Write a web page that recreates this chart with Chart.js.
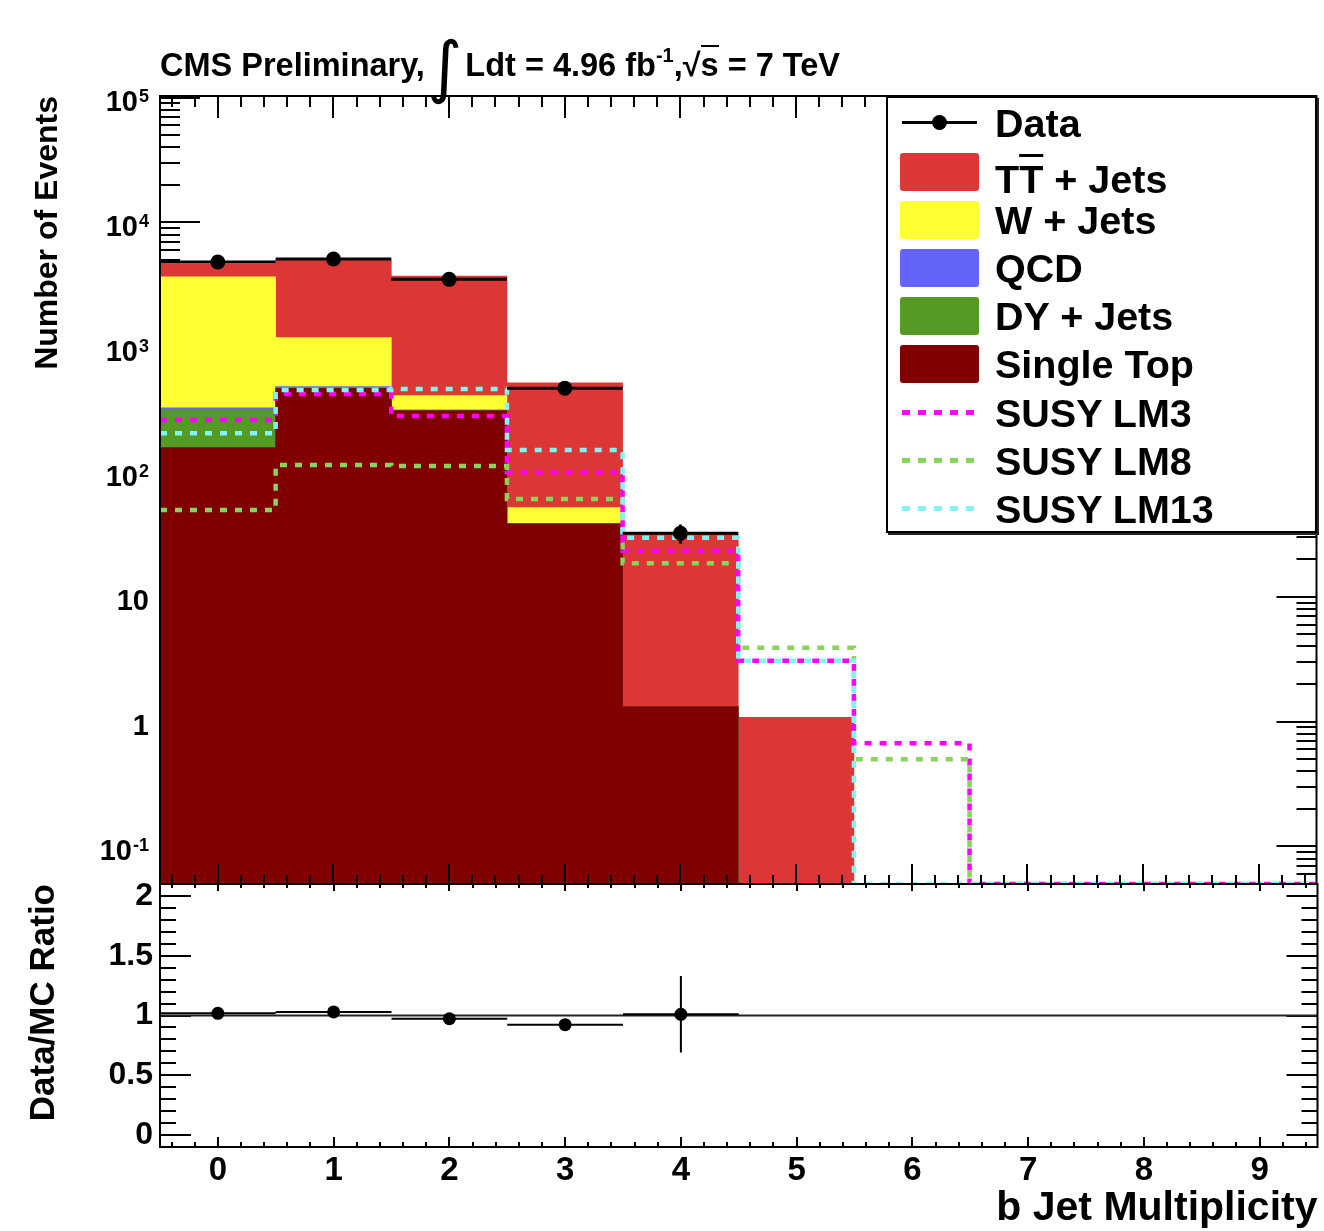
<!DOCTYPE html>
<html>
<head>
<meta charset="utf-8">
<script src="https://cdn.jsdelivr.net/npm/chart.js@4.4.0/dist/chart.umd.min.js"></script>
<style>
  body { margin: 0; background: #fff; }
  #wrap { position: relative; width: 1324px; height: 1231px; font-family: "Liberation Sans", Arial, Helvetica, sans-serif; font-weight: bold; color: #000; }
  canvas { position: absolute; left: 0; top: 0; }
  #title { position: absolute; left: 160px; top: 45px; font-size: 32.5px; line-height: 40px; white-space: nowrap; }
  #title .int { font-family: "DejaVu Sans", sans-serif; font-weight: normal; font-size: 68px; display: inline-block; vertical-align: -14px; margin: 0 3px 0 2px; line-height: 40px; }
  #title sup { font-size: 20px; vertical-align: 14px; line-height: 0; }
  .ov { border-top: 2px solid #000; }
  .ytl { position: absolute; right: 1175px; font-size: 29px; line-height: 28px; white-space: nowrap; }
  .ytl .e { position: relative; top: -9px; font-size: 18px; margin-left: 1px; }
  #legend { position: absolute; left: 886px; top: 96px; width: 427px; height: 433px; border: 2px solid #000; background: #fff; box-shadow: 2px 2px 0 #222; }
  .row { position: absolute; left: 0; width: 100%; height: 48px; }
  .sw { position: absolute; left: 12px; top: 5px; width: 79px; height: 38px; border-radius: 3px; }
  .lab { position: absolute; left: 107px; top: 0; font-size: 39.5px; line-height: 48px; white-space: nowrap; }
  .dline { position: absolute; left: 14px; top: 22px; width: 75px; height: 3px; background: #000; }
  .ddot { position: absolute; left: 44px; top: 16px; width: 15px; height: 15px; border-radius: 50%; background: #000; }
  .dash { position: absolute; left: 14px; top: 21px; width: 72px; height: 5px; }
</style>
</head>
<body>
<div id="wrap">
  <canvas id="ratioChart" width="1324" height="1231"></canvas>
  <canvas id="mainChart" width="1324" height="1231"></canvas>
  <div id="title">CMS Preliminary,<span class="int">∫</span>Ldt = 4.96 fb<sup>-1</sup>,√<span class="ov">s</span> = 7 TeV</div>
  <div id="legend"></div>
</div>
<script>
// bin centres (b jet multiplicity)
const binCenters = [0, 1, 2, 3, 4, 5, 6, 7, 8, 9];
const xTickLabels = ["0", "1", "2", "3", "4", "5", "6", "7", "8", "9"];

// MC backgrounds per bin
const singleTop = [157, 469, 311, 38.5, 1.32, 0, 0, 0, 0, 0];
const dyJets = [157, 9, 3, 0.3, 0, 0, 0, 0, 0, 0];
const qcd = [13, 5, 0, 0, 0, 0, 0, 0, 0, 0];
const wJets = [3344, 709, 95, 13, 0, 0, 0, 0, 0, 0];
const ttJets = [974, 3804, 3311, 467, 30.5, 1.08, 0, 0, 0, 0];

// data
const dataVals = [4815, 5089, 3499, 469, 32.3, 0, 0, 0, 0, 0];
const dataErr = [69, 71, 59, 22, 5.7, 0, 0, 0, 0, 0];

// signal points
const susyLM3 = [261, 422, 281, 99.5, 23.4, 3.08, 0.67, 0, 0, 0];
const susyLM8 = [49.6, 113.8, 111.7, 60.8, 18.6, 3.91, 0.5, 0, 0, 0];
const susyLM13 = [204, 454, 462, 150, 29.8, 3.08, 0, 0, 0, 0];

// data / MC
const ratioVals = [1.018, 1.03, 0.973, 0.923, 1.01, null, null, null, null, null];
const ratioErr = [0.02, 0.02, 0.02, 0.05, 0.32, 0, 0, 0, 0, 0];

const yTickVals = [0.1, 1, 10, 100, 1000, 10000, 100000];
const yTickLabels = ["10^-1", "1", "10", "10^2", "10^3", "10^4", "10^5"];
const ratioTickVals = [0, 0.5, 1, 1.5, 2];
const ratioTickLabels = ["0", "0.5", "1", "1.5", "2"];

const yMin = 0.05, yMax = 1.03e5;
const rMin = -0.1, rMax = 2.1;
const FONT = '"Liberation Sans", Arial, Helvetica, sans-serif';

const stackDefs = [
  { label: "Single Top", vals: singleTop, color: "#800000" },
  { label: "DY + Jets", vals: dyJets, color: "#559a24" },
  { label: "QCD", vals: qcd, color: "#6464fa" },
  { label: "W + Jets", vals: wJets, color: "#ffff33" },
  { label: "TT + Jets", vals: ttJets, color: "#dd3636" },
];
const susyDefs = [
  { label: "SUSY LM3", vals: susyLM3, color: "#ff00ff" },
  { label: "SUSY LM8", vals: susyLM8, color: "#86d65a" },
  { label: "SUSY LM13", vals: susyLM13, color: "#7ff5f5" },
];

// cumulative stack, drawn overlapping (lowest on top)
let running = binCenters.map(() => 0);
const stackSets = stackDefs.map((s, k) => {
  running = running.map((r, i) => r + s.vals[i]);
  return {
    type: "bar",
    label: s.label,
    data: binCenters.map((x, i) => ({ x: x, y: running[i] })).filter((p) => p.y > 0),
    backgroundColor: s.color,
    borderWidth: 0,
    grouped: false,
    barPercentage: 1,
    categoryPercentage: 1,
    order: 4 + k,
  };
});

function stepPoints(vals) {
  const pts = vals.map((v, i) => ({ x: binCenters[i] - 0.5, y: v > 0 ? v : yMin }));
  pts.push({ x: binCenters[binCenters.length - 1] + 0.5, y: pts[pts.length - 1].y });
  return pts;
}

const susySets = susyDefs.map((s, k) => ({
  type: "line",
  label: s.label,
  data: stepPoints(s.vals),
  stepped: true,
  borderColor: s.color,
  borderWidth: 4.5,
  borderDash: [7, 8],
  pointRadius: 0,
  fill: false,
  order: 3 - k,
}));

const dataSet = {
  type: "scatter",
  label: "Data",
  data: binCenters.map((x, i) => ({ x: x, y: dataVals[i] })).filter((p) => p.y > 0),
  pointRadius: 7.5,
  backgroundColor: "#000",
  borderWidth: 0,
  order: 0,
};

function xTicks(ctx, a, x, topLen, botLen) {
  ctx.beginPath();
  for (let n = -2; n <= 47; n++) {
    const v = n / 5;
    const px = Math.round(x.getPixelForValue(v));
    const major = n % 5 === 0;
    ctx.moveTo(px, a.top);
    ctx.lineTo(px, a.top + (major ? topLen[0] : topLen[1]));
    ctx.moveTo(px, a.bottom);
    ctx.lineTo(px, a.bottom - (major ? botLen[0] : botLen[1]));
  }
  ctx.stroke();
}

const mainFrame = {
  id: "mainFrame",
  beforeDatasetsDraw(chart) {
    const { ctx, chartArea: a, scales: { y } } = chart;
    ctx.save();
    ctx.strokeStyle = "#000";
    ctx.lineWidth = 2;
    ctx.beginPath();
    for (let k = -2; k <= 5; k++) {
      for (let m = 1; m <= 9; m++) {
        const v = m * Math.pow(10, k);
        if (v < yMin || v > yMax) continue;
        const py = Math.round(y.getPixelForValue(v));
        const len = m === 1 ? 40 : 20;
        ctx.moveTo(a.left, py); ctx.lineTo(a.left + len, py);
        ctx.moveTo(a.right, py); ctx.lineTo(a.right - len, py);
      }
    }
    ctx.stroke();
    ctx.restore();
  },
  afterDatasetsDraw(chart) {
    const { ctx, chartArea: a, scales: { x, y } } = chart;
    ctx.save();
    ctx.strokeStyle = "#000";
    // data: bin width bars and errors
    ctx.lineWidth = 3;
    ctx.beginPath();
    dataVals.forEach((v, i) => {
      if (!(v > 0)) return;
      const py = y.getPixelForValue(v);
      const px = x.getPixelForValue(binCenters[i]);
      ctx.moveTo(x.getPixelForValue(binCenters[i] - 0.5), py);
      ctx.lineTo(x.getPixelForValue(binCenters[i] + 0.5), py);
      ctx.moveTo(px, y.getPixelForValue(v + dataErr[i]));
      ctx.lineTo(px, y.getPixelForValue(Math.max(v - dataErr[i], yMin)));
    });
    ctx.stroke();
    ctx.lineWidth = 2;
    xTicks(ctx, a, x, [22, 11], [20, 9]);
    ctx.strokeRect(a.left, a.top, a.right - a.left, a.bottom - a.top);
    ctx.restore();
  },
};

const ratioFrame = {
  id: "ratioFrame",
  beforeDatasetsDraw(chart) {
    const { ctx, chartArea: a, scales: { y } } = chart;
    ctx.save();
    ctx.strokeStyle = "#000";
    ctx.lineWidth = 2;
    ctx.beginPath();
    for (let n = 0; n <= 20; n++) {
      const py = Math.round(y.getPixelForValue(n / 10));
      const len = n % 5 === 0 ? 31 : 16;
      ctx.moveTo(a.left, py); ctx.lineTo(a.left + len, py);
      ctx.moveTo(a.right, py); ctx.lineTo(a.right - len, py);
    }
    ctx.stroke();
    ctx.restore();
  },
  afterDatasetsDraw(chart) {
    const { ctx, chartArea: a, scales: { x, y } } = chart;
    ctx.save();
    ctx.strokeStyle = "#000";
    ctx.lineWidth = 2;
    ctx.beginPath();
    ratioVals.forEach((v, i) => {
      if (v === null) return;
      const py = y.getPixelForValue(v);
      const px = x.getPixelForValue(binCenters[i]);
      ctx.moveTo(x.getPixelForValue(binCenters[i] - 0.5), py);
      ctx.lineTo(x.getPixelForValue(binCenters[i] + 0.5), py);
      ctx.moveTo(px, y.getPixelForValue(v + ratioErr[i]));
      ctx.lineTo(px, y.getPixelForValue(v - ratioErr[i]));
    });
    ctx.stroke();
    xTicks(ctx, a, x, [7, 4], [10, 5]);
    ctx.strokeRect(a.left, a.top, a.right - a.left, a.bottom - a.top);
    ctx.restore();
  },
};

const mainChart = new Chart(document.getElementById("mainChart"), {
  type: "bar",
  data: { datasets: [dataSet, ...susySets, ...stackSets] },
  options: {
    responsive: false,
    animation: false,
    events: [],
    layout: { padding: { top: 96, bottom: 347, left: 0, right: 4 } },
    plugins: { legend: { display: false }, tooltip: { enabled: false } },
    scales: {
      x: {
        type: "linear",
        display: false,
        offset: false,
        min: -0.5,
        max: 9.5,
        afterBuildTicks: (s) => { s.ticks = binCenters.map((v) => ({ value: v })); },
      },
      y: {
        type: "logarithmic",
        min: yMin,
        max: yMax,
        afterFit: (s) => { s.width = 160; },
        afterBuildTicks: (s) => { s.ticks = yTickVals.map((v) => ({ value: v })); },
        ticks: { display: false },
        grid: { display: false, drawTicks: false },
        border: { display: false },
        title: {
          display: true,
          text: "Number of Events",
          align: "end",
          color: "#000",
          font: { family: FONT, size: 32, weight: "bold" },
          padding: { top: 29, bottom: 0 },
        },
      },
    },
  },
  plugins: [mainFrame],
});

// log axis labels with real superscripts, placed through the chart's y scale
const wrap = document.getElementById("wrap");
yTickVals.forEach((v, i) => {
  const parts = yTickLabels[i].split("^");
  const el = document.createElement("div");
  el.className = "ytl";
  el.innerHTML = parts[0] + (parts[1] ? '<span class="e">' + parts[1] + "</span>" : "");
  el.style.top = (mainChart.scales.y.getPixelForValue(v) - 10.5).toFixed(1) + "px";
  wrap.appendChild(el);
});

new Chart(document.getElementById("ratioChart"), {
  type: "scatter",
  data: {
    datasets: [
      {
        type: "scatter",
        label: "Data/MC",
        data: binCenters.map((x, i) => ({ x: x, y: ratioVals[i] })).filter((p) => p.y !== null),
        pointRadius: 6.5,
        backgroundColor: "#000",
        borderWidth: 0,
        order: 0,
      },
      {
        type: "line",
        label: "unity",
        data: [{ x: -0.5, y: 1 }, { x: 9.5, y: 1 }],
        borderColor: "#222",
        borderWidth: 2,
        pointRadius: 0,
        order: 1,
      },
    ],
  },
  options: {
    responsive: false,
    animation: false,
    events: [],
    layout: { padding: { top: 884, bottom: 0, left: 0, right: 4 } },
    plugins: { legend: { display: false }, tooltip: { enabled: false } },
    scales: {
      x: {
        type: "linear",
        min: -0.5,
        max: 9.5,
        offset: false,
        afterFit: (s) => { s.height = 84; },
        afterBuildTicks: (s) => { s.ticks = binCenters.map((v) => ({ value: v })); },
        ticks: {
          callback: (v, i) => xTickLabels[i],
          autoSkip: false,
          maxRotation: 0,
          font: { family: FONT, size: 33, weight: "bold" },
          color: "#000",
          padding: 4,
        },
        grid: { display: false, drawTicks: false },
        border: { display: false },
        title: {
          display: true,
          text: "b Jet Multiplicity",
          align: "end",
          color: "#000",
          font: { family: FONT, size: 41, weight: "bold" },
          padding: { top: 0, bottom: -2 },
        },
      },
      y: {
        type: "linear",
        min: rMin,
        max: rMax,
        afterFit: (s) => { s.width = 160; },
        afterBuildTicks: (s) => { s.ticks = ratioTickVals.map((v) => ({ value: v })); },
        ticks: {
          callback: (v, i) => ratioTickLabels[i],
          font: { family: FONT, size: 32, weight: "bold" },
          color: "#000",
          padding: 7,
        },
        grid: { display: false, drawTicks: false },
        border: { display: false },
        title: {
          display: true,
          text: "Data/MC Ratio",
          align: "end",
          color: "#000",
          font: { family: FONT, size: 35, weight: "bold" },
          padding: { top: 23, bottom: 0 },
        },
      },
    },
  },
  plugins: [ratioFrame],
});

// legend box
const legend = document.getElementById("legend");
const rows = [];
rows.push('<div class="dline"></div><div class="ddot"></div><span class="lab">Data</span>');
[...stackDefs].reverse().forEach((s) => {
  const txt = s.label === "TT + Jets"
    ? 'T<span style="text-decoration: overline; text-decoration-thickness: 3px;">T</span> + Jets'
    : s.label;
  const shift = s.label === "TT + Jets" ? ' style="top:7px"' : "";
  rows.push('<div class="sw" style="background:' + s.color + '"></div><span class="lab"' + shift + ">" + txt + "</span>");
});
susyDefs.forEach((s) => {
  rows.push('<div class="dash" style="background: repeating-linear-gradient(90deg,' + s.color + " 0 8px, transparent 8px 16px);\"></div><span class=\"lab\">" + s.label + "</span>");
});
legend.innerHTML = rows.map((r, i) => '<div class="row" style="top:' + (1.3 + 48.2 * i).toFixed(1) + 'px">' + r + "</div>").join("");
</script>
</body>
</html>
